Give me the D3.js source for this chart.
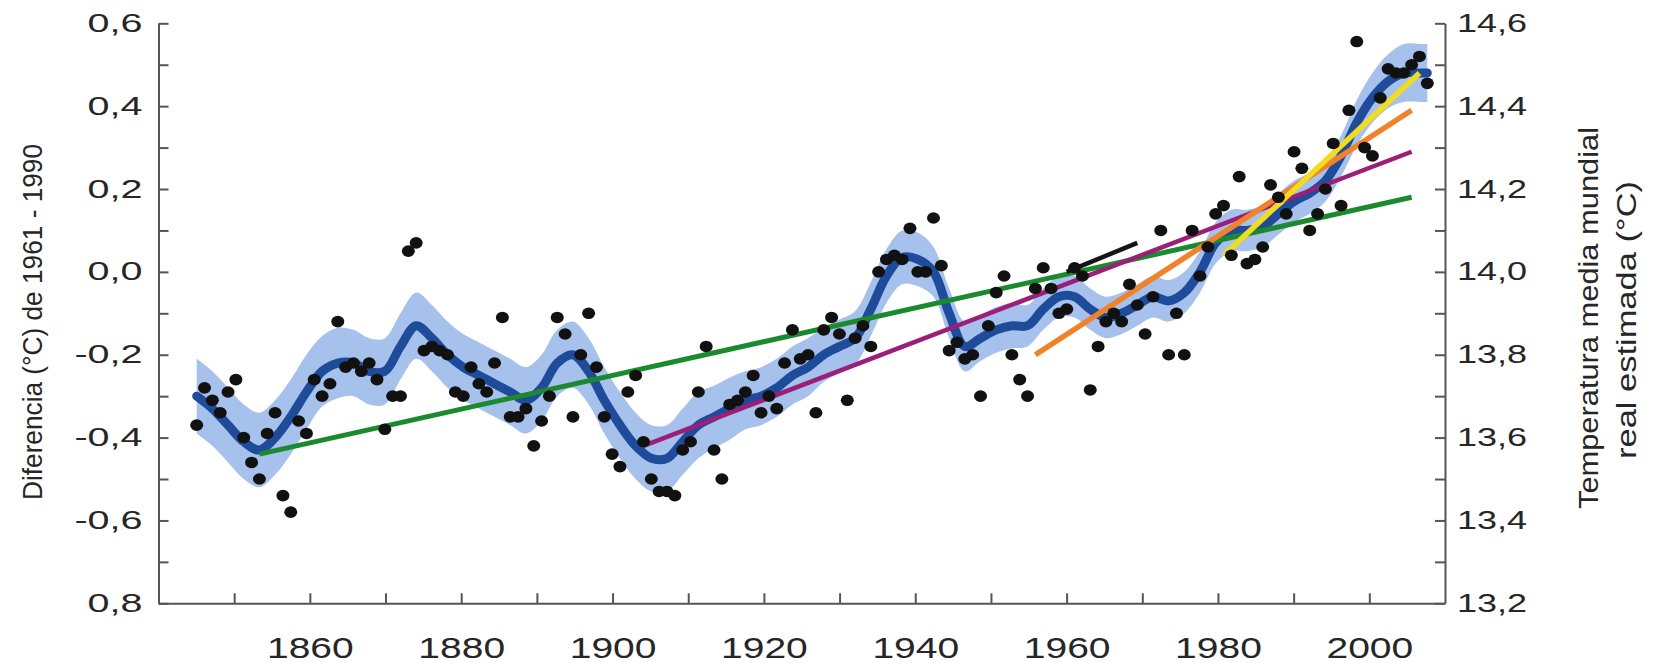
<!DOCTYPE html>
<html>
<head>
<meta charset="utf-8">
<script src="https://cdn.jsdelivr.net/npm/d3@7"></script>
<style>
  html, body { margin: 0; padding: 0; background: #fff; }
  svg { display: block; font-family: "Liberation Sans", Arial, sans-serif; }
</style>
</head>
<body>
<div id="chart"></div>
<script>
// Annual global mean anomalies (black dots), one per year from 1850.
var firstYear = 1850;
var anomalies = [
  -0.37, -0.28, -0.31, -0.34, -0.29, -0.26, -0.40, -0.46, -0.50, -0.39,
  -0.34, -0.54, -0.58, -0.36, -0.39, -0.26, -0.30, -0.27, -0.12, -0.23,
  -0.22, -0.24, -0.22, -0.26, -0.38, -0.30, -0.30, 0.05, 0.07, -0.19,
  -0.18, -0.19, -0.20, -0.29, -0.30, -0.23, -0.27, -0.29, -0.22, -0.11,
  -0.35, -0.35, -0.33, -0.42, -0.36, -0.30, -0.11, -0.15, -0.35, -0.20,
  -0.10, -0.23, -0.35, -0.44, -0.47, -0.29, -0.25, -0.41, -0.50, -0.53,
  -0.53, -0.54, -0.43, -0.41, -0.29, -0.18, -0.43, -0.50, -0.32, -0.31,
  -0.29, -0.25, -0.34, -0.30, -0.33, -0.22, -0.14, -0.21, -0.20, -0.34,
  -0.14, -0.11, -0.15, -0.31, -0.16, -0.13, -0.18, 0.00, 0.03, 0.04,
  0.03, 0.105, 0.00, 0.00, 0.13, 0.015, -0.19, -0.17, -0.21, -0.20,
  -0.30, -0.13, -0.05, -0.01, -0.20, -0.26, -0.30, -0.04, 0.01, -0.04,
  -0.10, -0.09, 0.01, -0.01, -0.285, -0.18, -0.12, -0.10, -0.12, -0.03,
  -0.08, -0.15, -0.06, 0.10, -0.20, -0.10, -0.20, 0.10, -0.01, 0.06,
  0.14, 0.16, 0.04, 0.23, 0.02, 0.03, 0.06, 0.21, 0.18, 0.14,
  0.29, 0.25, 0.10, 0.14, 0.20, 0.31, 0.16, 0.39, 0.556, 0.30,
  0.28, 0.42, 0.49, 0.48, 0.48, 0.50, 0.52, 0.455
];

// Smoothed curve (dark blue) and half width of its light blue band.
var smoothYears = [
  1850, 1852, 1854, 1856, 1858, 1860, 1862, 1864, 1866, 1868,
  1870, 1872, 1874, 1876, 1878, 1880, 1882, 1884, 1886, 1888,
  1890, 1892, 1894, 1896, 1898, 1900, 1902, 1904, 1906, 1908,
  1910, 1912, 1914, 1916, 1918, 1920, 1922, 1924, 1926, 1928,
  1930, 1932, 1934, 1936, 1938, 1940, 1942, 1944, 1946, 1948,
  1950, 1952, 1954, 1956, 1958, 1960, 1962, 1964, 1966, 1968,
  1970, 1972, 1974, 1976, 1978, 1980, 1982, 1984, 1986, 1988,
  1990, 1992, 1994, 1996, 1998, 2000, 2002, 2004, 2006, 2007
];
var smoothValues = [
  -0.30, -0.33, -0.37, -0.41, -0.43, -0.40, -0.35, -0.29, -0.24, -0.22,
  -0.22, -0.24, -0.24, -0.18, -0.13, -0.16, -0.20, -0.23, -0.25, -0.27,
  -0.29, -0.31, -0.28, -0.22, -0.20, -0.24, -0.31, -0.37, -0.42, -0.45,
  -0.45, -0.41, -0.37, -0.35, -0.33, -0.31, -0.30, -0.28, -0.25, -0.23,
  -0.20, -0.18, -0.16, -0.09, -0.01, 0.035, 0.03, 0.00, -0.10, -0.18,
  -0.16, -0.14, -0.13, -0.13, -0.09, -0.06, -0.06, -0.09, -0.11, -0.10,
  -0.08, -0.06, -0.07, -0.05, 0.00, 0.07, 0.10, 0.10, 0.11, 0.14,
  0.17, 0.19, 0.22, 0.28, 0.36, 0.42, 0.46, 0.48, 0.48, 0.48
];
var bandHalf = [
  0.09, 0.09, 0.09, 0.09, 0.09, 0.09, 0.09, 0.09, 0.085, 0.085,
  0.08, 0.08, 0.08, 0.08, 0.08, 0.08, 0.08, 0.08, 0.08, 0.08,
  0.08, 0.08, 0.08, 0.08, 0.08, 0.08, 0.08, 0.08, 0.08, 0.08,
  0.08, 0.08, 0.08, 0.075, 0.075, 0.07, 0.07, 0.07, 0.07, 0.07,
  0.065, 0.065, 0.065, 0.065, 0.065, 0.065, 0.065, 0.06, 0.06, 0.06,
  0.055, 0.055, 0.055, 0.05, 0.05, 0.05, 0.05, 0.05, 0.05, 0.05,
  0.05, 0.05, 0.05, 0.05, 0.05, 0.05, 0.05, 0.05, 0.05, 0.05,
  0.05, 0.05, 0.05, 0.05, 0.055, 0.06, 0.065, 0.07, 0.07, 0.07
];

// Linear trends: 150, 100, 50 and 25 years, plus the short dark stroke near 1965.
var trendNames = ['150 años', '100 años', '50 años', '25 años', 'tramo'];
var trendStartYear = [1858, 1907, 1957, 1981, 1961];
var trendEndYear = [2005, 2005, 2005, 2006, 1970];
var trendStartValue = [-0.44, -0.42, -0.20, 0.04, 0.00];
var trendEndValue = [0.18, 0.29, 0.39, 0.48, 0.07];

// Axis ticks and their printed labels.
var leftMajor = [0.6, 0.4, 0.2, 0, -0.2, -0.4, -0.6, -0.8];
var leftLabels = ['0,6', '0,4', '0,2', '0,0', '-0,2', '-0,4', '-0,6', '0,8'];
var leftMinor = [0.5, 0.3, 0.1, -0.1, -0.3, -0.5, -0.7];
var rightMajor = [14.6, 14.4, 14.2, 14.0, 13.8, 13.6, 13.4, 13.2];
var rightLabels = ['14,6', '14,4', '14,2', '14,0', '13,8', '13,6', '13,4', '13,2'];
var rightMinor = [14.5, 14.3, 14.1, 13.9, 13.7, 13.5, 13.3];
var xMajor = [1860, 1880, 1900, 1920, 1940, 1960, 1980, 2000];
var xLabels = ['1860', '1880', '1900', '1920', '1940', '1960', '1980', '2000'];
var xMinor = [1850, 1870, 1890, 1910, 1930, 1950, 1970, 1990];

var leftTitle = 'Diferencia (°C) de 1961 - 1990';
var rightTitle = ['Temperatura media mundial', 'real estimada (°C)'];

// ---------------------------------------------------------------

var width = 1669, height = 663;
var plotLeft = 158.5, plotRight = 1445, plotTop = 23.3, plotBottom = 603.3;

var trendColor = ['#1b8a2f', '#9b1f78', '#f0822a', '#f2dc1e', '#151515'];
var trendWidth = [5, 4.5, 5.5, 5.5, 4.5];

var svg = d3.select('#chart').append('svg').
  attr('width', width).
  attr('height', height);

var y = d3.scaleLinear().domain([-0.8, 0.6]).range([plotBottom, plotTop]);
var yRight = d3.scaleLinear().domain([13.2, 14.6]).range([plotBottom, plotTop]);
// printed year axis
var xAxisScale = d3.scaleLinear().domain([1840, 2010]).range([plotLeft, plotRight]);
// the plotted series sit slightly wider than the printed axis in the source figure
var x = d3.scaleLinear().domain([1850, 2007]).range([196.7, 1427.3]);

function labeler(values, labels) {
  var m = new Map();
  values.forEach(function (v, i) { m.set(v, labels[i]); });
  return function (v) { return m.has(v) ? m.get(v) : ''; };
}

// band
var smooth = smoothYears.map(function (yr, i) {
  return { year: yr, value: smoothValues[i], half: bandHalf[i] };
});

svg.append('path').
  datum(smooth).
  attr('fill', '#a6c1ec').
  attr('d', d3.area().
    curve(d3.curveCatmullRom.alpha(0.5)).
    x(function (d) { return x(d.year); }).
    y0(function (d) { return y(d.value - d.half); }).
    y1(function (d) { return y(d.value + d.half); }));

// smoothed curve
svg.append('path').
  datum(smooth).
  attr('fill', 'none').
  attr('stroke', '#1f4c9a').
  attr('stroke-width', 9).
  attr('stroke-linecap', 'round').
  attr('stroke-linejoin', 'round').
  attr('d', d3.line().
    curve(d3.curveCatmullRom.alpha(0.5)).
    x(function (d) { return x(d.year); }).
    y(function (d) { return y(d.value); }));

// trend lines
var trends = trendNames.map(function (n, i) {
  return [[trendStartYear[i], trendStartValue[i]], [trendEndYear[i], trendEndValue[i]]];
});

svg.selectAll('path.trend').
  data(trends).
  enter().append('path').
  attr('class', 'trend').
  attr('fill', 'none').
  attr('stroke', function (d, i) { return trendColor[i]; }).
  attr('stroke-width', function (d, i) { return trendWidth[i]; }).
  attr('d', d3.line().
    x(function (d) { return x(d[0]); }).
    y(function (d) { return y(d[1]); }));

// yellow over orange again, as in the figure
svg.selectAll('path.trend').filter(function (d, i) { return i === 3; }).raise();

// dots
svg.selectAll('ellipse.dot').
  data(anomalies).
  enter().append('ellipse').
  attr('class', 'dot').
  attr('cx', function (d, i) { return x(firstYear + i); }).
  attr('cy', function (d) { return y(d); }).
  attr('rx', 6.5).
  attr('ry', 5.8).
  attr('fill', '#111');

// axes
var axisColor = '#555';

var gLeft = svg.append('g').
  attr('transform', 'translate(' + plotLeft + ',0)').
  call(d3.axisLeft(y).
    tickValues(leftMajor.concat(leftMinor)).
    tickFormat(labeler(leftMajor, leftLabels)).
    tickSize(-10).
    tickSizeOuter(0).
    tickPadding(16));

var gRight = svg.append('g').
  attr('transform', 'translate(' + plotRight + ',0)').
  call(d3.axisRight(yRight).
    tickValues(rightMajor.concat(rightMinor)).
    tickFormat(labeler(rightMajor, rightLabels)).
    tickSize(-10).
    tickSizeOuter(0).
    tickPadding(12));

var gBottom = svg.append('g').
  attr('transform', 'translate(0,' + plotBottom + ')').
  call(d3.axisBottom(xAxisScale).
    tickValues(xMajor.concat(xMinor)).
    tickFormat(labeler(xMajor, xLabels)).
    tickSize(-10).
    tickSizeOuter(0).
    tickPadding(33));

[gLeft, gRight, gBottom].forEach(function (g) {
  g.select('.domain').attr('stroke', axisColor).attr('stroke-width', 2);
  g.selectAll('.tick line').attr('stroke', axisColor).attr('stroke-width', 2);
  g.selectAll('.tick text').attr('fill', '#262626');
});

gLeft.selectAll('.tick text').style('font-size', '25px');
gRight.selectAll('.tick text').style('font-size', '25px');
gBottom.selectAll('.tick text').style('font-size', '30px');

// the printed digits are wide, stretch them
function stretch(sel, k) {
  sel.selectAll('.tick text').each(function () {
    var len = this.getComputedTextLength();
    if (len > 0) {
      d3.select(this).attr('textLength', len * k).attr('lengthAdjust', 'spacingAndGlyphs');
    }
  });
}
stretch(gLeft, 1.58);
stretch(gRight, 1.44);
stretch(gBottom, 1.3);

// axis titles
svg.append('text').
  attr('transform', 'translate(42,322) rotate(-90)').
  attr('text-anchor', 'middle').
  attr('fill', '#262626').
  style('font-size', '27px').
  attr('textLength', 356).
  attr('lengthAdjust', 'spacingAndGlyphs').
  text(leftTitle);

svg.selectAll('text.rtitle').
  data(rightTitle).
  enter().append('text').
  attr('class', 'rtitle').
  attr('transform', function (d, i) {
    return 'translate(' + (1598 + i * 38) + ',' + (318 + i * 2) + ') rotate(-90)';
  }).
  attr('text-anchor', 'middle').
  attr('fill', '#262626').
  style('font-size', '27px').
  attr('textLength', function (d, i) { return i === 0 ? 382 : 278; }).
  attr('lengthAdjust', 'spacingAndGlyphs').
  text(function (d) { return d; });
</script>
</body>
</html>
